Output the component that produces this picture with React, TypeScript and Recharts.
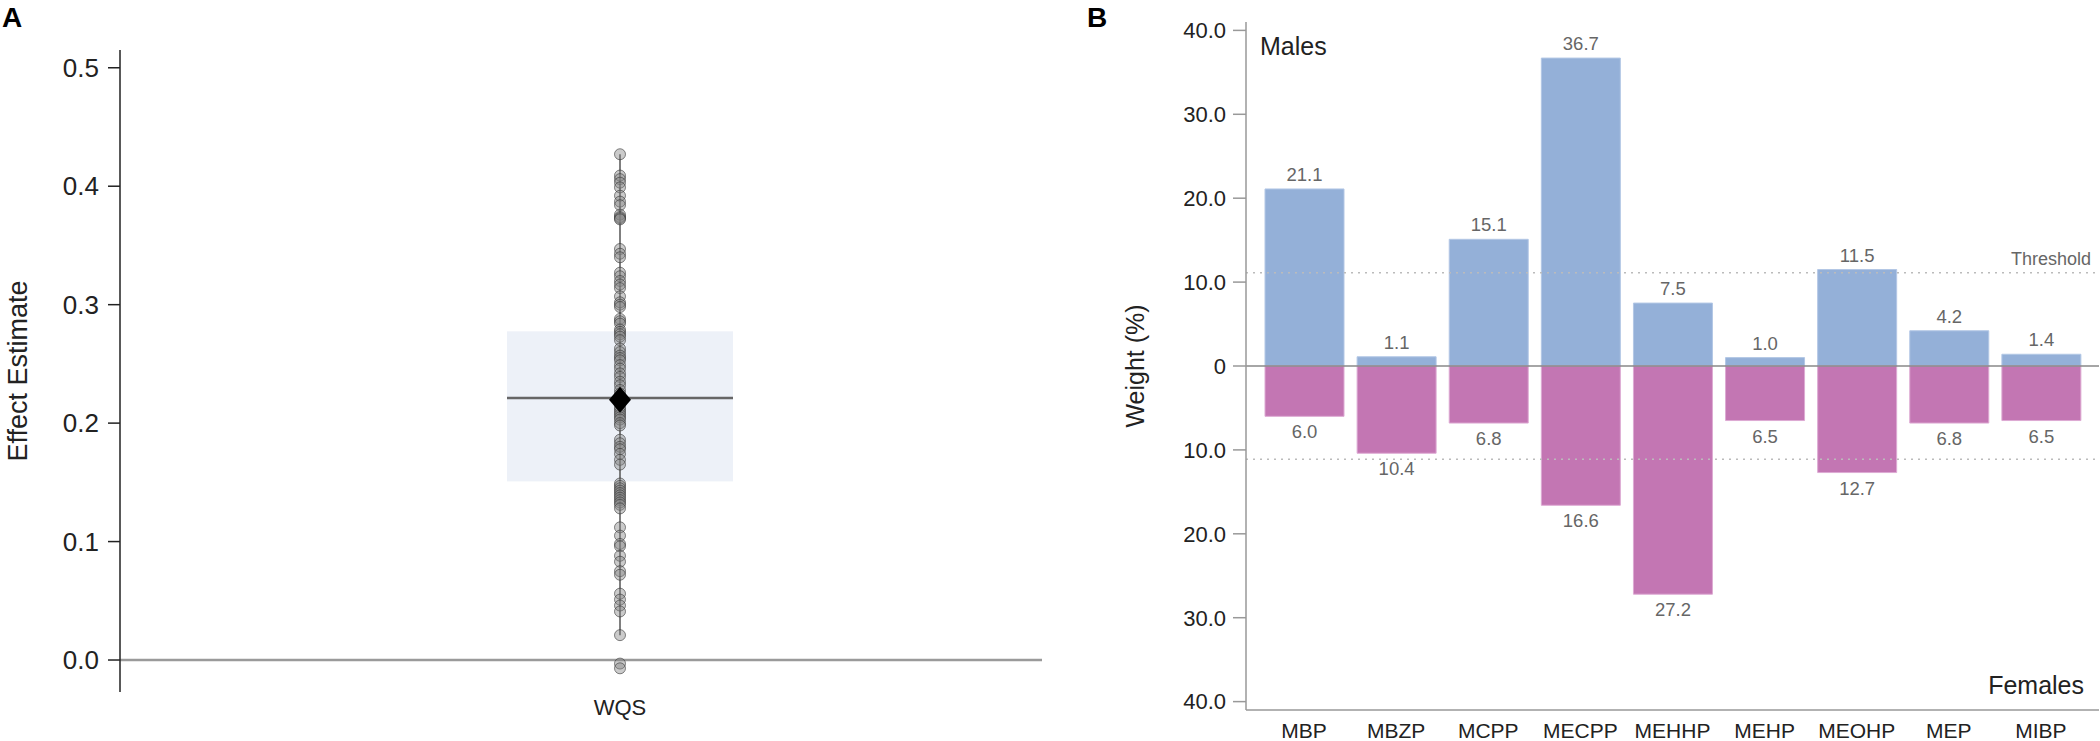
import React from 'react';
import {
  ComposedChart,
  BarChart,
  Bar,
  Scatter,
  XAxis,
  YAxis,
  ReferenceLine,
  LabelList,
  Label,
} from 'recharts';

const FONT = "'Liberation Sans', Arial, sans-serif";

// Panel A: WQS effect estimates
const wqsGroup = 'WQS';
const wqsBox = [0.1508, 0.2775];
const wqsMedian = 0.2213;
const wqsMean = 0.2198;
const wqsWhisker = [0.021, 0.427];
const effectTicks = [0, 0.1, 0.2, 0.3, 0.4, 0.5];
const wqsEstimates = [
  0.427, 0.409, 0.406, 0.403, 0.399, 0.392, 0.387, 0.384, 0.376, 0.374, 0.373, 0.372,
  0.347, 0.343, 0.34,
  0.327, 0.324, 0.32, 0.317, 0.314, 0.307, 0.302, 0.3, 0.298,
  0.288, 0.286, 0.284, 0.279, 0.277, 0.275, 0.273, 0.27,
  0.263, 0.26, 0.257, 0.255, 0.253, 0.249, 0.246, 0.242, 0.239, 0.235, 0.232, 0.228, 0.225,
  0.216, 0.213, 0.211, 0.209, 0.207, 0.205, 0.203, 0.2, 0.198,
  0.186, 0.183, 0.18, 0.178, 0.174, 0.169, 0.165,
  0.149, 0.147, 0.145, 0.143, 0.141, 0.139, 0.137, 0.135, 0.133, 0.131, 0.128,
  0.112, 0.105, 0.098, 0.096, 0.088, 0.083, 0.075, 0.072,
  0.056, 0.051, 0.046, 0.041, 0.021,
  -0.003, -0.007,
];

// Panel B: component weights
const components = ['MBP', 'MBZP', 'MCPP', 'MECPP', 'MEHHP', 'MEHP', 'MEOHP', 'MEP', 'MIBP'];
const malesWeight = [21.1, 1.1, 15.1, 36.7, 7.5, 1.0, 11.5, 4.2, 1.4];
const femalesWeight = [6.0, 10.4, 6.8, 16.6, 27.2, 6.5, 12.7, 6.8, 6.5];
const threshold = 11.1;
const weightTicks = [-40, -30, -20, -10, 0, 10, 20, 30, 40];

const boxData = [{ name: wqsGroup, box: wqsBox, median: wqsMedian, whisker: wqsWhisker }];
const pointData = wqsEstimates.map((v) => ({ name: wqsGroup, value: v }));
const meanData = [{ name: wqsGroup, value: wqsMean }];

const weightData = components.map((name, i) => ({
  name,
  males: malesWeight[i],
  females: -femalesWeight[i],
  femaleLabel: femalesWeight[i],
}));

const BoxShape = (props: any) => {
  const { x, y, width, height, payload } = props;
  const [lo, hi] = payload.box;
  const top = Math.min(y, y + height);
  const h = Math.abs(height);
  const k = h / (hi - lo);
  const yOf = (v: number) => top + (hi - v) * k;
  const cx = x + width / 2;
  return (
    <g>
      <rect x={x} y={top} width={width} height={h} fill="#EDF1F8" />
      <line x1={cx} x2={cx} y1={yOf(payload.whisker[1])} y2={yOf(payload.whisker[0])} stroke="#555" strokeWidth={1.5} />
      <line x1={x} x2={x + width} y1={yOf(payload.median)} y2={yOf(payload.median)} stroke="#666" strokeWidth={2.5} />
    </g>
  );
};

const PointShape = (props: any) => (
  <circle cx={props.cx} cy={props.cy} r={5.5} fill="rgba(130,130,130,0.42)" stroke="rgba(55,55,55,0.6)" strokeWidth={1} />
);

const DiamondShape = (props: any) => {
  const { cx, cy } = props;
  const w = 11;
  const h = 13;
  return <polygon points={`${cx},${cy - h} ${cx + w},${cy} ${cx},${cy + h} ${cx - w},${cy}`} fill="#000" />;
};

const vbOf = (p: any) => (p.viewBox && p.viewBox.width !== undefined ? p.viewBox : p);

const MaleLabel = (p: any) => {
  const { x, y, width, height } = vbOf(p);
  const top = Math.min(y, y + height);
  return (
    <text x={x + width / 2} y={top - 8} textAnchor="middle" fontSize={18.5} fill="#666" fontFamily={FONT}>
      {Number(p.value).toFixed(1)}
    </text>
  );
};

const FemaleLabel = (p: any) => {
  const { x, y, width, height } = vbOf(p);
  const bottom = Math.max(y, y + height);
  return (
    <text x={x + width / 2} y={bottom + 22} textAnchor="middle" fontSize={18.5} fill="#666" fontFamily={FONT}>
      {Number(p.value).toFixed(1)}
    </text>
  );
};

const weightFormat = (v: number) => (v === 0 ? '0' : Math.abs(v).toFixed(1));

const EffectPanel = () => (
  <ComposedChart width={1060} height={741} data={boxData} margin={{ top: 50, right: 18, bottom: 0, left: 0 }}>
    <XAxis
      dataKey="name"
      type="category"
      allowDuplicatedCategory={false}
      padding={{ left: 78, right: 0 }}
      axisLine={false}
      tickLine={false}
      tickSize={0}
      tickMargin={7}
      height={49}
      tick={{ fontSize: 22, fill: '#222', fontFamily: FONT }}
    />
    <YAxis
      type="number"
      domain={[-0.027, 0.515]}
      ticks={effectTicks}
      allowDataOverflow
      tickFormatter={(v: number) => v.toFixed(1)}
      width={120}
      tickSize={12}
      tickMargin={9}
      axisLine={{ stroke: '#222', strokeWidth: 1.5 }}
      tickLine={{ stroke: '#222', strokeWidth: 1.5 }}
      tick={{ fontSize: 26, fill: '#222', fontFamily: FONT }}
    >
      <Label
        value="Effect Estimate"
        angle={-90}
        position="insideLeft"
        offset={17}
        style={{ textAnchor: 'middle', fontSize: 27, fill: '#222', fontFamily: FONT }}
      />
    </YAxis>
    <Bar dataKey="box" barSize={226} shape={<BoxShape />} isAnimationActive={false} />
    <ReferenceLine y={0} stroke="#9a9a9a" strokeWidth={2.5} />
    <Scatter data={pointData} dataKey="value" shape={PointShape} isAnimationActive={false} />
    <Scatter data={meanData} dataKey="value" shape={DiamondShape} isAnimationActive={false} />
  </ComposedChart>
);

const WeightPanel = () => (
  <BarChart
    width={1000}
    height={741}
    data={weightData}
    stackOffset="sign"
    barSize={79}
    margin={{ top: 22, right: 1, bottom: 0, left: 0 }}
  >
    <XAxis
      dataKey="name"
      interval={0}
      padding={{ left: 12, right: 12 }}
      height={31}
      tickLine={false}
      tickSize={0}
      tickMargin={13}
      axisLine={{ stroke: '#999', strokeWidth: 1.5 }}
      tick={{ fontSize: 21, fill: '#222', fontFamily: FONT }}
    />
    <XAxis xAxisId="top" orientation="top" dataKey="name" height={0} tick={false} tickLine={false} axisLine={{ stroke: '#999', strokeWidth: 1.5 }} />
    <YAxis
      domain={[-41, 41]}
      ticks={weightTicks}
      allowDataOverflow
      tickFormatter={weightFormat}
      width={146}
      tickSize={13}
      tickMargin={7}
      axisLine={{ stroke: '#999', strokeWidth: 1.5 }}
      tickLine={{ stroke: '#999', strokeWidth: 1.5 }}
      tick={{ fontSize: 22, fill: '#222', fontFamily: FONT }}
    >
      <Label
        value="Weight (%)"
        angle={-90}
        position="insideLeft"
        offset={35}
        style={{ textAnchor: 'middle', fontSize: 25, fill: '#222', fontFamily: FONT }}
      />
    </YAxis>
    <YAxis yAxisId="right" orientation="right" domain={[-41, 41]} width={0} tick={false} tickLine={false} axisLine={{ stroke: '#999', strokeWidth: 1.5 }} />
    <Bar dataKey="males" stackId="w" fill="#94B0D8" stroke="#B3C7E5" strokeWidth={1} isAnimationActive={false}>
      <LabelList dataKey="males" content={MaleLabel} />
    </Bar>
    <Bar dataKey="females" stackId="w" fill="#C376B3" stroke="#DDAAD3" strokeWidth={1} isAnimationActive={false}>
      <LabelList dataKey="femaleLabel" content={FemaleLabel} />
    </Bar>
    <ReferenceLine y={0} stroke="#888" strokeWidth={1.5} />
    <ReferenceLine
      y={threshold}
      stroke="#bbb"
      strokeWidth={1.5}
      strokeDasharray="2 5"
      label={{ value: 'Threshold', position: 'insideBottomRight', offset: 8, fill: '#666', fontSize: 18, fontFamily: FONT }}
    />
    <ReferenceLine y={-threshold} stroke="#bbb" strokeWidth={1.5} strokeDasharray="2 5" />
  </BarChart>
);

export default function App() {
  return (
    <div style={{ position: 'absolute', left: 0, top: 0, width: 2100, height: 741, background: '#fff', overflow: 'hidden' }}>
      <div style={{ position: 'absolute', left: 0, top: 0 }}>
        <EffectPanel />
      </div>
      <div style={{ position: 'absolute', left: 1100, top: 0 }}>
        <WeightPanel />
      </div>
      <svg width={2100} height={741} style={{ position: 'absolute', left: 0, top: 0, pointerEvents: 'none' }}>
        <text x={2} y={27} fontSize={28} fontWeight="bold" fontFamily={FONT} fill="#000">A</text>
        <text x={1087} y={27} fontSize={28} fontWeight="bold" fontFamily={FONT} fill="#000">B</text>
        <text x={1260} y={55} fontSize={25} fontFamily={FONT} fill="#222">Males</text>
        <text x={2084} y={694} fontSize={25} fontFamily={FONT} fill="#222" textAnchor="end">Females</text>
      </svg>
    </div>
  );
}
